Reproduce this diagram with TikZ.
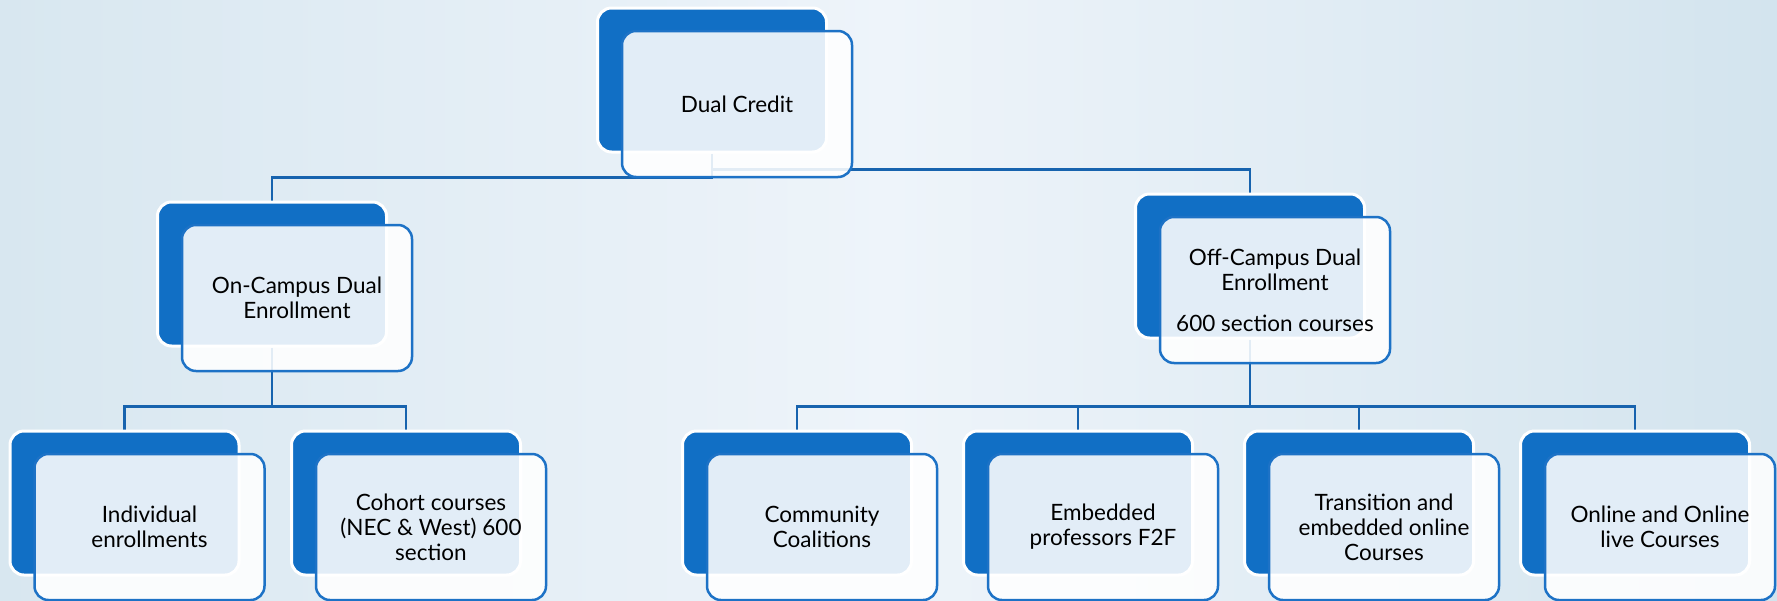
\documentclass[tikz,border=0pt]{standalone}
\usepackage{fontspec}
\setmainfont{Lato}
\usetikzlibrary{calc}
\definecolor{bgL}{HTML}{D8E7F0}
\definecolor{bgM}{HTML}{EEF4FA}
\definecolor{bgR}{HTML}{D3E4EE}
\definecolor{boxblue}{HTML}{116FC5}
\definecolor{edgeblue}{HTML}{1D72C6}
\definecolor{linkblue}{HTML}{1763AE}
\pgfdeclarelayer{bglayer}
\pgfdeclarelayer{links}
\pgfsetlayers{bglayer,links,main}
\begin{document}
\begin{tikzpicture}[x=1pt,y=-1pt,
  backbox/.style={rectangle, draw=white, line width=3pt, fill=boxblue,
    rounded corners=14pt, minimum width=229pt, minimum height=144pt, inner sep=0pt},
  frontbox/.style={rectangle, draw=edgeblue, line width=2.5pt, fill=white,
    fill opacity=0.88, text opacity=1, rounded corners=14pt,
    minimum width=230pt, minimum height=146pt, inner sep=4pt, align=center,
    font=\fontsize{22.5}{25}\selectfont, text=black},
  conn/.style={draw=linkblue, line width=2.5pt}]
\useasboundingbox (0,0) rectangle (1777,600);
\begin{pgfonlayer}{bglayer}
  \shade[left color=bgL, right color=bgR, middle color=bgM] (0,0) rectangle (1777,600);
\end{pgfonlayer}
% back boxes
\node[backbox] (DCb) at (712,80) {};
\node[backbox] (ONb) at (272,274) {};
\node[backbox] (OFb) at (1250,266) {};
\node[backbox] (INb) at (124.5,503) {};
\node[backbox] (COb) at (406,503) {};
\node[backbox] (CCb) at (797,503) {};
\node[backbox] (EPb) at (1078,503) {};
\node[backbox] (TRb) at (1359,503) {};
\node[backbox] (OLb) at (1635,503) {};
% front boxes
\node[frontbox] (DC) at (737,104) {Dual Credit};
\node[frontbox] (ON) at (297,298) {On-Campus Dual\\Enrollment};
\node[frontbox] (OF) at (1275,290) {Off-Campus Dual\\Enrollment\\[16pt]600 section courses};
\node[frontbox] (IN) at (149.5,527) {Individual\\enrollments};
\node[frontbox] (CO) at (431,527) {Cohort courses\\(NEC \& West) 600\\section};
\node[frontbox] (CC) at (822,527) {Community\\Coalitions};
\node[frontbox] (EP) at (1103,527) {Embedded\\professors F2F};
\node[frontbox] (TR) at (1384,527) {Transition and\\embedded online\\Courses};
\node[frontbox] (OL) at (1660,527) {Online and Online\\live Courses};
% connectors
\begin{pgfonlayer}{links}
  \foreach \p/\c in {DCb/ONb, DCb/OFb, ONb/INb, ONb/COb, OFb/CCb, OFb/EPb, OFb/TRb, OFb/OLb}
    \draw[conn] (\p.south) |- ([yshift=23pt]\c.north) -- (\c.north);
\end{pgfonlayer}
\end{tikzpicture}
\end{document}
